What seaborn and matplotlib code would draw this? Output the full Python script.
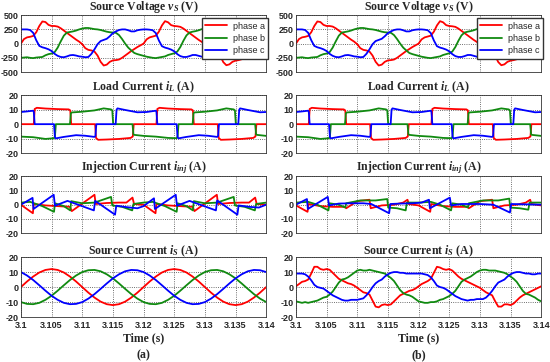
import numpy as np
import matplotlib
matplotlib.use("Agg")
import matplotlib.pyplot as plt
import seaborn as sns

# --- Data (time offsets in ms after 3.1 s) ---
phase_names = ["phase a", "phase b", "phase c"]
phase_colors = ["#ff0000", "#108a10", "#0000ff"]
x_ticks = [3.1, 3.105, 3.11, 3.115, 3.12, 3.125, 3.13, 3.135, 3.14]
v_ticks = [-500, -250, 0, 250, 500]
i_ticks = [-20, -10, 0, 10, 20]

# source voltage, sampled every 0.5 ms (same in (a) and (b))
vs_a = [0, 80, 110, 120, 135, 200, 310, 390, 380, 330, 310, 310, 300, 270, 230, 190, 150, 110, 70, 35,
        -10, -80, -110, -120, -140, -210, -320, -385, -370, -320, -295, -290, -280, -250, -210, -170, -130, -95, -60, -30,
        0, 75, 110, 125, 140, 210, 320, 395, 375, 325, 310, 305, 295, 265, 225, 185, 145, 105, 65, 30,
        -5, -75, -110, -125, -145, -215, -325, -380, -365, -320, -300, -290, -275, -245, -205, -165, -125, -90, -55, -25,
        0]
vs_b = [-250, -245, -240, -250, -255, -245, -240, -235, -205, -185, -175, -150, -70, 40, 140, 195, 205, 215, 230, 250,
        265, 275, 275, 265, 255, 250, 240, 225, 210, 200, 195, 190, 150, 80, 0, -70, -120, -165, -185, -200,
        -215, -230, -240, -250, -255, -245, -235, -225, -200, -185, -170, -140, -60, 50, 145, 195, 210, 220, 235, 255,
        265, 270, 270, 260, 250, 245, 235, 220, 205, 200, 195, 185, 140, 70, -10, -80, -130, -170, -190, -210,
        -225]
vs_c = [250, 250, 250, 240, 190, 60, -40, -65, -80, -100, -130, -180, -215, -235, -240, -225, -205, -200, -210, -225,
        -230, -240, -235, -180, -100, -10, 45, 65, 85, 130, 185, 215, 240, 250, 250, 235, 215, 215, 235, 245,
        250, 250, 245, 235, 185, 55, -45, -70, -85, -105, -135, -185, -220, -235, -235, -220, -200, -200, -215, -230,
        -235, -240, -230, -175, -95, -5, 50, 70, 90, 135, 190, 220, 245, 250, 245, 230, 210, 210, 230, 240,
        250]

# load current breakpoints (same in (a) and (b))
il_a_t = [0, 2.1, 2.25, 2.6, 4, 6, 7.8, 8.05, 8.2, 12.1, 12.25, 12.6, 14, 16, 17.9, 18.25, 18.4,
          22.1, 22.25, 22.6, 24, 26, 27.8, 28.05, 28.2, 32.1, 32.25, 32.6, 34, 36, 37.9, 38.25, 38.4, 40]
il_a = [0, 0, 10.5, 11.3, 10.8, 10.4, 10.2, 9.5, 0, 0, -9.5, -10.8, -10.6, -10.2, -9.5, -8.5, 0,
        0, 10.5, 11.3, 10.8, 10.4, 10.2, 9.5, 0, 0, -9.5, -10.8, -10.6, -10.2, -9.5, -8.5, 0, 0]
il_b_t = [0, 2, 4, 5.4, 5.55, 5.7, 8.0, 8.15, 8.3, 10, 12, 13.5, 14.7, 14.9, 15.05, 18.2, 18.35, 18.5,
          20, 22, 24, 25.4, 25.55, 25.7, 28.0, 28.15, 28.3, 30, 32, 33.5, 34.7, 34.9, 35.05, 38.2, 38.35, 38.5, 40]
il_b = [-8.6, -9.0, -10.2, -9.7, -8.5, 0, 0, 7.5, 8.1, 8.6, 9.5, 10.9, 10.2, 9.5, 0, 0, -7.0, -7.4,
        -8.1, -8.6, -9.5, -9.7, -8.5, 0, 0, 7.5, 8.1, 8.6, 9.5, 10.9, 10.2, 9.5, 0, 0, -7.0, -7.4, -8.1]
il_c_t = [0, 1, 2.0, 2.1, 2.25, 5.4, 5.55, 5.7, 7, 9, 10.5, 12.0, 12.15, 12.3, 15.45, 15.6, 15.75,
          17, 19, 20.5, 22.0, 22.1, 22.25, 25.4, 25.55, 25.7, 27, 29, 30.5, 32.0, 32.15, 32.3, 35.45, 35.6, 35.75,
          37, 39, 40]
il_c = [8.4, 8.8, 9.3, 8.5, 0, 0, -9.0, -9.8, -8.8, -7.6, -8.0, -8.8, -8.2, 0, 0, 10.0, 10.9,
        9.8, 8.2, 8.4, 9.3, 8.5, 0, 0, -9.0, -9.8, -8.8, -7.6, -8.0, -8.8, -8.2, 0, 0, 10.0, 10.9,
        9.8, 8.2, 8.4]

# injection current (a) breakpoints
ij1_a_t = [0, 1.95, 2.1, 4, 6, 8.0, 8.3, 12.0, 12.2, 14, 16, 17.2, 18.2, 18.45,
           20, 21.95, 22.1, 24, 26, 28.0, 28.3, 31.95, 32.15, 34, 36, 37.2, 38.2, 38.45, 40]
ij1_a = [0, -6, 0.5, -0.5, -1, -1.5, -4.5, 7, 0.5, 1.2, 1.5, 1.5, 5, 0.5,
         0, -6, 0.5, -0.5, -1, -1.5, -4.5, 7, 0.5, 1.2, 1.5, 1.5, 5, 0.5, 0]
ij1_b_t = [0, 1.5, 3.5, 5.4, 5.55, 7.0, 8.05, 8.2, 10, 12, 14.7, 14.9, 16.5, 18.15, 18.35,
           20, 21.5, 23.5, 25.4, 25.55, 27, 28.05, 28.2, 30, 32, 34.7, 34.9, 36.5, 38.15, 38.35, 40]
ij1_b = [1.5, 2, -1, -5, 1, -1, -4, 2.5, 1.0, 1.5, 5.5, -0.5, -1.5, -4, 0.5,
         1.5, 2, -1, -5, 1, -1, -4, 2.5, 1.0, 1.5, 5.5, -0.5, -1.5, -4, 0.5, 1.5]
ij1_c_t = [0, 1.9, 2.05, 5.35, 5.55, 7.6, 11.9, 12.1, 15.35, 15.55, 17.4, 19.0,
           20, 21.7, 21.85, 25.25, 25.45, 27.5, 31.8, 32.0, 35.3, 35.5, 37.2, 38.8, 40]
ij1_c = [0, 4.8, -3, 7, -0.7, 2.7, -4, 2.7, -7, -0.7, -1.8, -2.5,
         -1, 4.5, -3, 7, -0.7, 2.7, -4, 3, -7, -0.5, -1.5, -2, 0]

# injection current (b) breakpoints
ij2_a_t = [0, 1.9, 2.05, 4, 6, 8.05, 8.2, 10, 12.0, 12.2, 14, 16, 17.5, 18.2, 18.4,
           20, 21.9, 22.05, 24, 26, 28.05, 28.2, 30, 32.0, 32.2, 34, 36, 37.5, 38.2, 38.4, 40]
ij2_a = [-0.5, -5, 0.5, -1, -1.5, -1.5, -2.5, 2.5, 3.5, -2.5, -0.5, 0, 1.5, 3.5, 0.5,
         -0.5, -5, 0.5, -1, -1.5, -1.5, -2.5, 2.5, 3.5, -2.5, -0.5, 0, 1.5, 3.5, 0.5, -0.5]
ij2_b_t = [0, 2, 3.5, 5.3, 5.5, 7, 8.05, 8.2, 10.5, 13, 14.9, 15.05, 16.5, 17.9, 18.1,
           20, 22, 23.5, 25.3, 25.5, 27, 28.05, 28.2, 30.5, 33, 34.8, 34.95, 36.5, 37.9, 38.1, 40]
ij2_b = [1.5, 2, 0, -4, 1, 0, -2, 1, 3, 3, 4, -2, -2.5, -4, 1.5,
         1.5, 2, 0, -4, 1, 0, -2, 1, 3, 3, 4.3, -2, -2.5, -3.5, 1.5, 1.5]
ij2_c_t = [0, 1.8, 1.95, 5.2, 5.4, 7, 9, 11, 12.3, 15.2, 15.4, 17, 19,
           20.5, 21.7, 21.85, 25.1, 25.3, 27, 30, 32.2, 34.9, 35.1, 37, 40]
ij2_c = [0, 4, -3, 5.5, -0.5, 0.8, 1, 1, 0.5, -6, 0.5, 0.8, 1,
         1.5, 3.5, -2.5, 5, -0.5, 0.5, 0.5, 0, -5.5, 0.5, 0.3, 0]

# source current (a), sampled every 1 ms
is1_a = [0, 3.7, 7, 9.7, 11.4, 12, 11.4, 9.7, 7, 3.7, 0, -3.7, -7, -9.7, -11.4, -12, -11.4, -9.7, -7, -3.7,
         0, 3.7, 7, 9.7, 11.4, 12, 11.4, 9.7, 7, 3.7, 0, -3.7, -7, -9.7, -11.4, -12, -11.4, -9.7, -7, -3.7, 0]
is1_b = [-10, -11.2, -11.4, -10.5, -8.5, -5.8, -2.4, 1.2, 4.7, 7.7, 10, 11.2, 11.4, 10.5, 8.5, 5.8, 2.4, -1.2, -4.7, -7.7,
         -10, -11.2, -11.4, -10.5, -8.5, -5.8, -2.4, 1.2, 4.7, 7.7, 10, 11.2, 11.4, 10.5, 8.5, 5.8, 2.4, -1.2, -4.7, -7.7, -10]
is1_c = [10, 7.7, 4.7, 1.2, -2.4, -5.8, -8.5, -10.5, -11.4, -11.2, -10, -7.7, -4.7, -1.2, 2.4, 5.8, 8.5, 10.5, 11.4, 11.2,
         10, 7.7, 4.7, 1.2, -2.4, -5.8, -8.5, -10.5, -11.4, -11.2, -10, -7.7, -4.7, -1.2, 2.4, 5.8, 8.5, 10.5, 11.4, 11.2, 10]

# source current (b), sampled every 0.5 ms
is2_a = [0.5, 2, 3.5, 4, 5, 9, 13.5, 13.5, 12, 11.5, 12, 11.5, 9.5, 7.5, 5.5, 4.5, 3.5, 2.5, 2, 1,
         -0.5, -2, -3.5, -4, -5, -9, -13, -13.5, -12, -11.5, -12, -11.5, -9.5, -7.5, -5.5, -4.5, -3.5, -2.5, -2, -1,
         0.5, 2, 3, 4, 5.5, 9.5, 13.5, 13, 12, 11.5, 12, 11, 9, 7, 5.5, 4.5, 3.5, 2.5, 1.5, 0.5,
         -0.5, -2, -3.5, -4.5, -5.5, -9.5, -13, -13, -11.5, -11.5, -12, -11, -9, -7, -5.5, -4.5, -3.5, -2.5, -1.5, -0.5,
         0.5]
is2_b = [-9.5, -10, -10.5, -10, -10.5, -10, -9.5, -9, -8, -7, -6.5, -5, -3, 0, 3, 5, 5.5, 6.5, 8, 9.5,
         11, 11.5, 11, 11, 11.5, 11, 10.5, 10, 9.5, 9, 7.5, 6, 4, 1, -2, -4, -5, -5.5, -6.5, -8,
         -9.5, -10, -10.5, -10.5, -10, -10, -9.5, -8.5, -8, -7, -6, -4.5, -2.5, 0.5, 3.5, 5, 6, 7, 8.5, 10,
         11, 11.5, 11.5, 11, 11, 11, 10.5, 10, 9.5, 8.5, 7, 5.5, 3.5, 0.5, -2.5, -4.5, -5, -6, -7, -8.5,
         -9.5]
is2_c = [9, 9, 9, 8.5, 7, 4.5, 1.5, 0, -0.5, -1, -2.5, -4, -5.5, -6.5, -7.5, -8.5, -9, -9, -8.5, -8.5,
         -8.5, -8, -7.5, -5.5, -3, 0, 2.5, 4, 5, 7, 8.5, 9.5, 10, 10, 9.5, 9.5, 9, 9, 9, 9,
         9, 9, 8.5, 8, 6.5, 4, 1, 0, -0.5, -1.5, -3, -4.5, -6, -7, -8, -8.5, -9, -8.5, -8.5, -8,
         -8, -8, -7, -5, -2.5, 0.5, 3, 4, 5, 7, 8.5, 9.5, 10, 10, 9.5, 9, 9, 8.5, 8.5, 9,
         9]

# --- Style ---
sns.set_style("white")
plt.rcParams["font.family"] = ["Liberation Sans", "DejaVu Sans"]
plt.rcParams["mathtext.fontset"] = "custom"
plt.rcParams["mathtext.it"] = "Liberation Serif:italic:bold"
plt.rcParams["mathtext.rm"] = "Liberation Serif:bold"
plt.rcParams["mathtext.bf"] = "Liberation Serif:bold"


def ms_to_s(t_ms):
    return 3.1 + np.asarray(t_ms, dtype=float) / 1000.0


t_half = ms_to_s(np.arange(81) * 0.5)
t_one = ms_to_s(np.arange(41) * 1.0)

col_left = [0.038, 0.538]
col_width = 0.446
row_pos = [(0.801, 0.157), (0.577, 0.160), (0.356, 0.157), (0.124, 0.166)]
titles = [r"Source Voltage $v_S$ (V)", r"Load Current $i_L$ (A)",
          r"Injection Current $i_{inj}$ (A)", r"Source Current $i_S$ (A)"]

panels = [
    # (a) column
    [[(t_half, vs_a), (t_half, vs_b), (t_half, vs_c)],
     [(ms_to_s(il_a_t), il_a), (ms_to_s(il_b_t), il_b), (ms_to_s(il_c_t), il_c)],
     [(ms_to_s(ij1_a_t), ij1_a), (ms_to_s(ij1_b_t), ij1_b), (ms_to_s(ij1_c_t), ij1_c)],
     [(t_one, is1_a), (t_one, is1_b), (t_one, is1_c)]],
    # (b) column
    [[(t_half, vs_a), (t_half, vs_b), (t_half, vs_c)],
     [(ms_to_s(il_a_t), il_a), (ms_to_s(il_b_t), il_b), (ms_to_s(il_c_t), il_c)],
     [(ms_to_s(ij2_a_t), ij2_a), (ms_to_s(ij2_b_t), ij2_b), (ms_to_s(ij2_c_t), ij2_c)],
     [(t_half, is2_a), (t_half, is2_b), (t_half, is2_c)]],
]

fig = plt.figure(figsize=(5.5, 3.62), dpi=100)

for c in range(2):
    for r in range(4):
        bottom, height = row_pos[r]
        ax = fig.add_axes([col_left[c], bottom, col_width, height])
        for k, (tx, vy) in enumerate(panels[c][r]):
            sns.lineplot(x=tx, y=vy, ax=ax, color=phase_colors[k], lw=1.3,
                         estimator=None, sort=False, legend=False, label=phase_names[k])
        ax.set_xlim(3.1, 3.14)
        ax.set_xticks(x_ticks)
        if r == 0:
            ax.set_ylim(-500, 500)
            ax.set_yticks(v_ticks)
        else:
            ax.set_ylim(-20, 20)
            ax.set_yticks(i_ticks)
        ax.set_yticklabels([str(v) for v in ax.get_yticks().astype(int)])
        if r == 3:
            ax.set_xticklabels([f"{v:g}" for v in x_ticks])
        else:
            ax.set_xticklabels([])
        ax.set_xlabel("")
        ax.set_ylabel("")
        ax.grid(True, ls=":", color="0.25", lw=0.6)
        for s in ax.spines.values():
            s.set_color("0.2")
            s.set_linewidth(0.6)
        ax.tick_params(direction="in", length=2, width=0.5, labelsize=6.5)
        ax.tick_params(axis="y", pad=1.5)
        ax.tick_params(axis="x", pad=3)
        for lab in ax.get_xticklabels() + ax.get_yticklabels():
            lab.set_fontweight("bold")
        ax.set_title(titles[r], fontsize=8.5, fontweight="bold", family="Liberation Serif", pad=2)
        if r == 0:
            ax.legend(loc="upper right", bbox_to_anchor=(1.008, 0.95), fontsize=6.5,
                      frameon=True, fancybox=False, edgecolor="0.2", framealpha=1,
                      borderpad=0.4, labelspacing=0.35, handlelength=2.4,
                      handletextpad=0.6, borderaxespad=0)

for c, tag in enumerate(["(a)", "(b)"]):
    xc = col_left[c] + col_width / 2
    fig.text(xc, 0.066, "Time (s)", ha="center", va="center", fontsize=8.5,
             fontweight="bold", family="Liberation Serif")
    fig.text(xc, 0.019, tag, ha="center", va="center", fontsize=8.5,
             fontweight="bold", family="Liberation Serif")

fig.savefig("out.png", dpi=100)
